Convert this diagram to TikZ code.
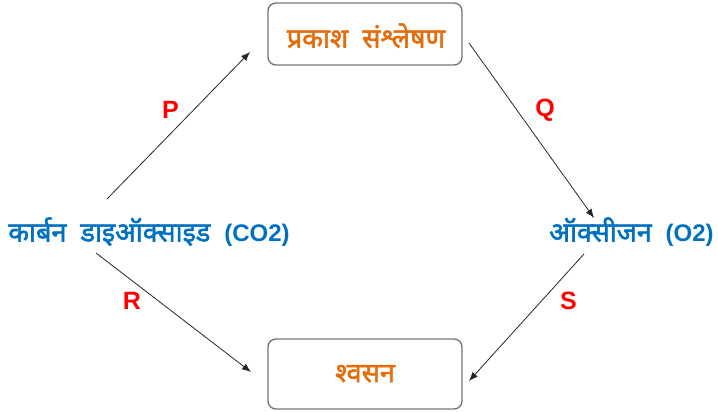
\documentclass[tikz,border=0pt]{standalone}
\usepackage{fontspec}
\setmainfont{Liberation Sans}
\newfontfamily\deva[Script=Devanagari,FakeBold=2]{Noto Sans}
\usetikzlibrary{arrows.meta}
\definecolor{procorange}{RGB}{228,108,10}
\definecolor{gasblue}{RGB}{0,112,192}
\definecolor{boxgray}{RGB}{118,118,118}
\newcommand{\wide}{\spaceskip=14pt plus 0pt minus 0pt\relax}
\begin{document}
\begin{tikzpicture}[x=1pt,y=-1pt,
  procbox/.style={draw=boxgray,line width=1.4pt,rounded corners=8pt,
    minimum width=194pt,inner sep=0pt},
  proctext/.style={text=procorange,inner sep=0pt,anchor=base,
    font=\deva\fontsize{27}{30}\selectfont\wide},
  gas/.style={text=gasblue,inner sep=0pt,anchor=base,
    font=\bfseries\fontsize{24}{28}\selectfont\wide},
  flow/.style={draw=black!85,line width=0.8pt,-{Latex[length=9pt,width=7pt]}},
  tag/.style={text=red,inner sep=0pt,font=\bfseries\fontsize{25}{28}\selectfont}]
\useasboundingbox (0,0) rectangle (718,412);

% process boxes
\node[procbox,minimum height=62pt] (photo) at (365,34) {};
\node[procbox,minimum height=70pt] (resp) at (365,374) {};
\node[proctext] (phototxt) at (366,47.5) {प्रकाश संश्लेषण};
\node[proctext] (resptxt) at (365,382) {श्वसन};

% gases
\node[gas] (co2) at (149,241.5) {{\deva\fontsize{27}{30}\selectfont\wide कार्बन डाइऑक्साइड} (CO2)};
\node[gas] (o2) at (631.5,241.5) {{\deva\fontsize{27}{30}\selectfont\wide ऑक्सीजन} (O2)};

% arrow end points
\coordinate (p1) at (107,199); \coordinate (p2) at (250,52);
\coordinate (q1) at (469,43);  \coordinate (q2) at (594,218);
\coordinate (r1) at (96,253);  \coordinate (r2) at (251,372);
\coordinate (s1) at (584,254); \coordinate (s2) at (469,381);

\draw[flow] (p1) -- (p2);
\draw[flow] (q1) -- (q2);
\draw[flow] (r1) -- (r2);
\draw[flow] (s1) -- (s2);

% labels
\node[tag] (lp) at (170.5,110) {P};
\node[tag] (lq) at (545,110) {Q};
\node[tag] (lr) at (132,300.5) {R};
\node[tag] (ls) at (568.5,301) {S};
\end{tikzpicture}
\end{document}
